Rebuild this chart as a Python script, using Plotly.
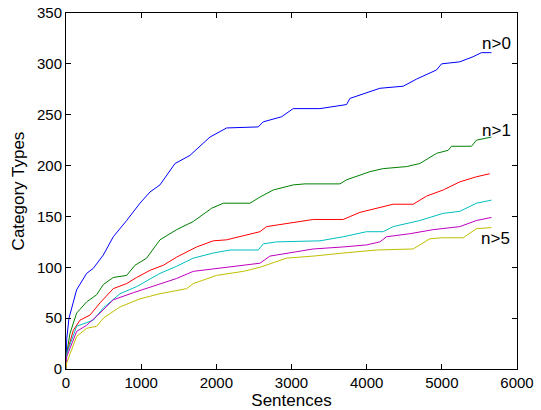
import plotly.graph_objects as go

# Data (sentences, category types)
blue_x = [0, 10, 40, 142, 275, 363, 496, 629, 807, 984, 1117, 1250, 1450, 1649, 1826, 1915, 2137, 2557, 2624, 2868, 3023, 3378, 3733, 3777, 3976, 4176, 4486, 4663, 4929, 4996, 5239, 5416, 5527, 5660]
blue_y = [0, 30, 50, 78, 94, 99, 112, 130, 146, 163, 174, 181, 202, 210, 222, 228, 237, 238, 243, 248, 256, 256, 260, 266, 271, 276, 278, 285, 294, 300, 302, 307, 311, 311]

green_x = [0, 9, 53, 142, 275, 408, 496, 629, 807, 918, 1073, 1250, 1472, 1693, 1937, 2092, 2447, 2580, 2757, 3023, 3178, 3644, 3733, 4043, 4220, 4530, 4707, 4929, 5084, 5129, 5395, 5461, 5660]
green_y = [0, 15, 35, 55, 66, 73, 83, 90, 92, 102, 109, 127, 137, 145, 158, 163, 163, 169, 176, 181, 182, 182, 186, 194, 197, 199, 202, 212, 215, 219, 219, 225, 228]

red_x = [0, 9, 97, 186, 319, 452, 629, 807, 940, 1117, 1294, 1472, 1738, 1959, 2137, 2403, 2580, 2669, 3023, 3289, 3688, 3910, 4353, 4619, 4797, 5018, 5239, 5461, 5638]
red_y = [0, 15, 38, 48, 53, 65, 79, 84, 90, 97, 102, 110, 120, 126, 127, 132, 135, 140, 144, 147, 147, 154, 162, 162, 170, 176, 184, 189, 192]

cyan_x = [0, 9, 142, 363, 496, 718, 940, 1250, 1472, 1693, 1959, 2181, 2557, 2624, 2802, 3378, 3688, 3999, 4220, 4353, 4707, 5018, 5239, 5461, 5660]
cyan_y = [0, 15, 42, 48, 60, 74, 81, 94, 101, 109, 114, 117, 117, 123, 125, 126, 130, 135, 135, 140, 146, 153, 155, 163, 166]

magenta_x = [0, 9, 142, 275, 452, 629, 895, 1250, 1472, 1693, 2004, 2358, 2580, 2713, 3023, 3289, 3688, 3999, 4176, 4264, 4574, 4885, 5239, 5461, 5660]
magenta_y = [0, 12, 37, 43, 55, 68, 75, 84, 89, 96, 99, 102, 104, 111, 115, 118, 120, 122, 125, 130, 133, 137, 140, 146, 149]

yellow_x = [0, 9, 142, 275, 408, 496, 718, 984, 1250, 1605, 1693, 2004, 2358, 2580, 2935, 3289, 3688, 4131, 4619, 4840, 4996, 5284, 5461, 5660]
yellow_y = [0, 6, 32, 40, 42, 50, 61, 69, 74, 79, 84, 92, 96, 100, 109, 111, 114, 117, 118, 128, 129, 129, 138, 139]

series = [
    (blue_x, blue_y, "rgb(0,0,255)"),
    (green_x, green_y, "rgb(0,128,0)"),
    (red_x, red_y, "rgb(255,0,0)"),
    (cyan_x, cyan_y, "rgb(0,191,191)"),
    (magenta_x, magenta_y, "rgb(191,0,191)"),
    (yellow_x, yellow_y, "rgb(191,191,0)"),
]

label_text = ["n>0", "n>1", "n>5"]
label_x = [5730, 5730, 5710]
label_y = [320, 234, 128]

x_ticks = [0, 1000, 2000, 3000, 4000, 5000, 6000]
y_ticks = [0, 50, 100, 150, 200, 250, 300, 350]

FONT = "Liberation Sans, Arial, Helvetica"

fig = go.Figure()
for xs, ys, c in series:
    fig.add_trace(go.Scatter(x=xs, y=ys, mode="lines", line=dict(color=c, width=1), showlegend=False))

for t, lx, ly in zip(label_text, label_x, label_y):
    fig.add_annotation(x=lx, y=ly, text=t, showarrow=False, xanchor="center", yanchor="middle",
                       font=dict(family=FONT, size=17, color="black"))

axis_common = dict(showgrid=False, zeroline=False, showline=True, linecolor="black", linewidth=1,
                   mirror="ticks", ticks="inside", ticklen=5, tickcolor="black", automargin=False,
                   ticklabeloverflow="allow",
                   tickfont=dict(family=FONT, size=15, color="black"))

fig.update_xaxes(range=[0, 6000], tickvals=x_ticks, **axis_common,
                 title=dict(text="Sentences", font=dict(family=FONT, size=17, color="black"), standoff=0))
fig.update_yaxes(range=[0, 350], tickvals=y_ticks, **axis_common,
                 title=dict(text="Category Types", font=dict(family=FONT, size=17, color="black"), standoff=8))

fig.update_layout(width=541, height=410, margin=dict(l=66, r=24, t=13, b=41),
                  plot_bgcolor="white", paper_bgcolor="white")

# remove the default 8px page margin so the figure fills the window exactly
fig.write_html("out.html", config={"displayModeBar": False},
               post_script="document.body.style.margin='0';document.body.style.overflow='hidden';")
